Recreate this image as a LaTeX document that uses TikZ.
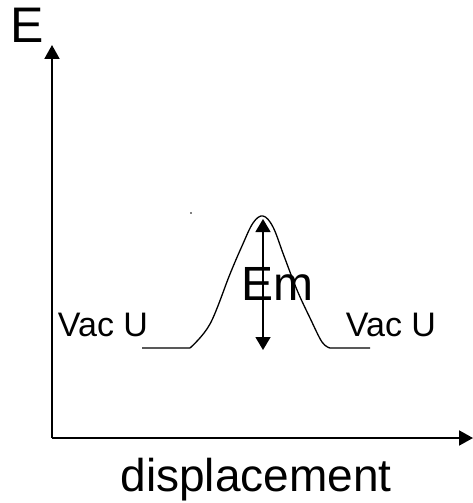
\documentclass[tikz,border=0pt]{standalone}
\usepackage{fontspec}
\setmainfont{Liberation Sans}
\usetikzlibrary{arrows.meta}
\begin{document}
\begin{tikzpicture}[x=1pt, y=-1pt,
        axis/.style={line width=2pt, -{Triangle[length=14pt, width=15pt]}},
        energy/.style={line width=1.5pt, {Triangle[length=13pt, width=15pt]}-{Triangle[length=13pt, width=15pt]}},
        curve/.style={line width=1.3pt, line join=round},
        lbl/.style={inner sep=0pt, anchor=base}
    ]
    \useasboundingbox (0,0) rectangle (473,503);
    \coordinate (origin) at (52,438);
    \coordinate (ytip) at (52,45);
    \coordinate (xtip) at (473,438);
    \coordinate (peak) at (263,219);
    \coordinate (floor) at (263,350);

    \draw[axis] (origin) -- (ytip);
    \draw[axis] (origin) -- (xtip);

    \node[lbl, font=\fontsize{50}{50}\selectfont] (elabel) at (27,43) {E};
    \node[lbl, font=\fontsize{46}{46}\selectfont] (xlabel) at (256,491) {displacement};

    \draw[curve] (142,348) -- (190,348)
        plot[smooth, tension=0.6] coordinates {(190,348) (210,324) (230,274) (242,246) (253,223) (263,216) (273,227) (284,256) (297,290) (310,318) (322,342) (330,348)}
        -- (370,348);
    \fill (191,213) circle (0.9);

    \draw[energy] (peak) -- (floor);
    \node[lbl, font=\fontsize{48}{48}\selectfont] (emlabel) at (277,300) {Em};
    \node[lbl, font=\fontsize{34}{34}\selectfont] (vacleft) at (103,336) {Vac U};
    \node[lbl, font=\fontsize{34}{34}\selectfont] (vacright) at (391,336) {Vac U};
\end{tikzpicture}
\end{document}
